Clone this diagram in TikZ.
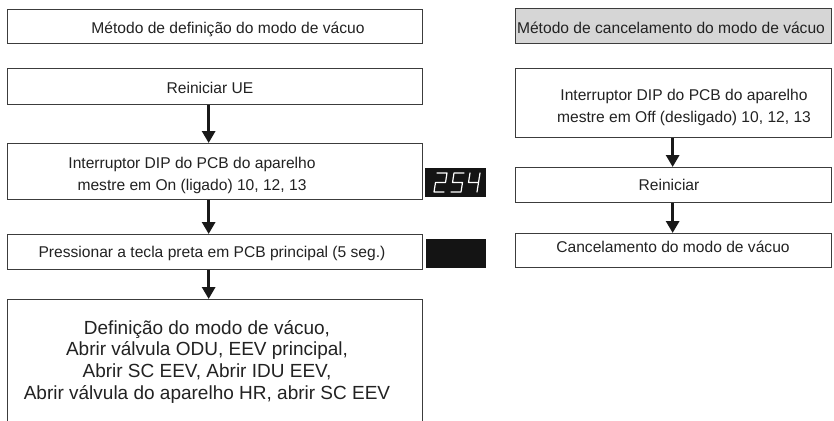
\documentclass[tikz,border=0pt]{standalone}
\usepackage{fontspec}
\setmainfont{Liberation Sans}
\usetikzlibrary{arrows.meta}
\definecolor{bd}{HTML}{3C3C3C}
\definecolor{tx}{HTML}{222222}
\definecolor{gr}{HTML}{D6D6D6}
\begin{document}
\begin{tikzpicture}[x=1pt,y=-1pt,
  box/.style={draw=bd, line width=1.3pt, fill=white, rectangle, inner sep=0pt, anchor=north west},
  sm/.style={font=\fontsize{15.6}{21}\selectfont, text=tx, inner sep=0pt, anchor=base},
  big/.style={font=\fontsize{19}{21.7}\selectfont, text=tx, inner sep=0pt, anchor=base},
  arr/.style={line width=3.2pt, draw=black!90, -{Triangle[width=13pt,length=12pt]}},
  disp/.style={fill=black!92, draw=none, rectangle, inner sep=0pt, anchor=north west},
  seg/.style={draw=white, line width=1.2pt, line join=round, line cap=round}]
\useasboundingbox (0,0) rectangle (834,420);
\clip (0,0) rectangle (834,420);
\fill[white] (0,0) rectangle (834,420);

% left column boxes
\node[box, minimum width=415pt, minimum height=34pt] (b1) at (7,9) {};
\node[box, minimum width=415pt, minimum height=36pt] (b2) at (7,68) {};
\node[box, minimum width=415pt, minimum height=56pt] (b3) at (7,143) {};
\node[box, minimum width=415pt, minimum height=35pt] (b4) at (7,234) {};
\node[box, minimum width=415pt, minimum height=135pt] (b5) at (7,299) {};

% right column boxes
\node[box, fill=gr, minimum width=316pt, minimum height=35pt] (r1) at (515,8) {};
\node[box, minimum width=316pt, minimum height=69pt] (r2) at (515,68) {};
\node[box, minimum width=316pt, minimum height=35pt] (r3) at (515,167) {};
\node[box, minimum width=316pt, minimum height=34pt] (r4) at (515,233) {};

% texts left
\node[sm] (t1) at (228,33.5) {Método de definição do modo de vácuo};
\node[sm] (t2) at (210,93.5) {Reiniciar UE};
\node[sm] (t3a) at (192,168) {Interruptor DIP do PCB do aparelho};
\node[sm] (t3b) at (192,190) {mestre em On (ligado) 10, 12, 13};
\node[sm] (t4) at (212,257) {Pressionar a tecla preta em PCB principal (5 seg.)};
\node[big] (t5a) at (207,334) {Definição do modo de vácuo,};
\node[big] (t5b) at (207,355.7) {Abrir válvula ODU, EEV principal,};
\node[big] (t5c) at (207,377.3) {Abrir SC EEV, Abrir IDU EEV,};
\node[big] (t5d) at (207,399) {Abrir válvula do aparelho HR, abrir SC EEV};

% texts right
\node[sm] (u1) at (671,33.5) {Método de cancelamento do modo de vácuo};
\node[sm] (u2a) at (684,100) {Interruptor DIP do PCB do aparelho};
\node[sm] (u2b) at (684,122) {mestre em Off (desligado) 10, 12, 13};
\node[sm] (u3) at (669,190) {Reiniciar};
\node[sm] (u4) at (673,252) {Cancelamento do modo de vácuo};

% arrows
\draw[arr] ([xshift=-6.5pt]b2.south) -- ([xshift=-6.5pt]b3.north);
\draw[arr] ([xshift=-6.5pt]b3.south) -- ([xshift=-6.5pt]b4.north);
\draw[arr] ([xshift=-6.5pt]b4.south) -- ([xshift=-6.5pt]b5.north);
\draw[arr] ([xshift=-1pt]r2.south) -- ([xshift=-1pt]r3.north);
\draw[arr] ([xshift=-1pt]r3.south) -- ([xshift=-1pt]r4.north);

% displays
\node[disp, minimum width=61pt, minimum height=29pt] (d1) at (425,168) {};
\node[disp, minimum width=60pt, minimum height=29pt] (d2) at (426,239) {};
% digit 2
\draw[seg] (437,173) -- (447,173) -- (445.5,182.5) -- (435.5,182.5) -- (434,192) -- (444,192);
% digit 5
\draw[seg] (464,173) -- (454,173) -- (452.5,182.5) -- (462.5,182.5) -- (461,192) -- (451,192);
% digit 4
\draw[seg] (470,173) -- (468.5,182.5) -- (478.5,182.5);
\draw[seg] (480,173) -- (477,192);
\end{tikzpicture}
\end{document}
